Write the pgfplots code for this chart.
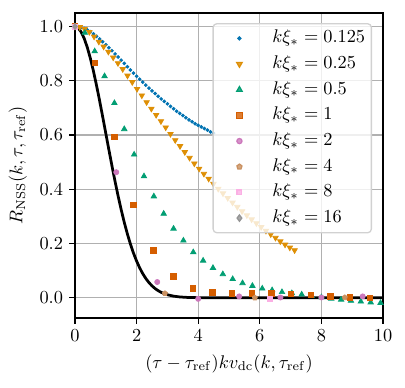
\documentclass[border=0pt]{standalone}
\usepackage{pgfplots}
\pgfplotsset{compat=1.18}
\definecolor{cb0}{HTML}{0173B2}
\definecolor{cb1}{HTML}{DE8F05}
\definecolor{cb2}{HTML}{029E73}
\definecolor{cb3}{HTML}{D55E00}
\definecolor{cb4}{HTML}{CC78BC}
\definecolor{cb5}{HTML}{CA9161}
\definecolor{cb6}{HTML}{FBAFE4}
\definecolor{cb7}{HTML}{949494}
\definecolor{gridgray}{HTML}{B0B0B0}
\begin{document}
\begin{tikzpicture}
\begin{axis}[
  scale only axis,
  width=168pt, height=166.4pt,
  xmin=0, xmax=10, ymin=-0.075, ymax=1.05,
  xtick={0,2,4,6,8,10},
  ytick={0,0.2,0.4,0.6,0.8,1.0},
  yticklabel style={/pgf/number format/.cd, fixed, fixed zerofill, precision=1},
  tick align=outside, xtick pos=bottom, ytick pos=left,
  major tick length=3pt,
  tick style={black, line width=0.7pt},
  axis line style={line width=0.8pt},
  grid=major,
  major grid style={gridgray, line width=0.75pt},
  xlabel={$(\tau-\tau_{\mathrm{ref}})kv_{\mathrm{dc}}(k,\tau_{\mathrm{ref}})$},
  ylabel={$R_{\mathrm{NSS}}(k,\tau,\tau_{\mathrm{ref}})$},
  legend cell align=left,
  legend image code/.code={%
    \path (0pt,0pt) (23.2pt,0pt);
    \draw[#1, /tikz/mark repeat=2, /tikz/mark phase=2] plot coordinates {(0pt,0pt) (11.6pt,0pt) (23.2pt,0pt)};},
  legend style={at={(1,1)}, anchor=north east, xshift=-6pt, yshift=-5.5pt,
    draw=black!18, line width=0.7pt, rounded corners=2pt, fill=white, fill opacity=0.8, text opacity=1,
    inner sep=2.4pt, row sep=2.8pt,
    nodes={inner sep=1pt, text height=7pt, text depth=2.2pt},
    /tikz/every odd column/.append style={column sep=5pt}},
]
% k xi = 0.125
\addplot[only marks, mark=*, mark size=0.8pt, color=cb0] coordinates {
(0.0,1.000)(0.1,0.999)(0.2,0.997)(0.3,0.993)(0.4,0.988)(0.5,0.981)(0.6,0.973)(0.7,0.964)(0.8,0.954)(0.9,0.944)
(1.0,0.933)(1.1,0.922)(1.2,0.911)(1.3,0.899)(1.4,0.888)(1.5,0.876)(1.6,0.864)(1.7,0.852)(1.8,0.840)(1.9,0.828)
(2.0,0.817)(2.1,0.806)(2.2,0.795)(2.3,0.784)(2.4,0.773)(2.5,0.763)(2.6,0.753)(2.7,0.743)(2.8,0.733)(2.9,0.724)
(3.0,0.715)(3.1,0.706)(3.2,0.697)(3.3,0.688)(3.4,0.680)(3.5,0.672)(3.6,0.664)(3.7,0.656)(3.8,0.649)(3.9,0.642)
(4.0,0.636)(4.1,0.630)(4.2,0.624)(4.3,0.618)(4.4,0.612)(4.5,0.607)};
\addlegendentry{$k\xi_* = 0.125$}
% k xi = 0.25
\addplot[only marks, mark=triangle*, mark size=1.7pt, mark options={rotate=180}, color=cb1] coordinates {
(0.000,1.000)(0.155,0.998)(0.310,0.991)(0.465,0.980)(0.620,0.963)(0.775,0.944)(0.930,0.926)(1.085,0.907)(1.240,0.886)(1.395,0.865)
(1.550,0.843)(1.705,0.819)(1.860,0.795)(2.015,0.770)(2.170,0.746)(2.325,0.721)(2.480,0.697)(2.635,0.674)(2.790,0.651)(2.945,0.628)
(3.100,0.604)(3.255,0.581)(3.410,0.559)(3.565,0.537)(3.720,0.516)(3.875,0.495)(4.030,0.476)(4.185,0.457)(4.340,0.439)(4.495,0.420)
(4.650,0.402)(4.805,0.385)(4.960,0.368)(5.115,0.351)(5.270,0.335)(5.425,0.319)(5.580,0.304)(5.735,0.289)(5.890,0.275)(6.045,0.261)
(6.200,0.247)(6.355,0.234)(6.510,0.221)(6.665,0.208)(6.820,0.196)(6.975,0.185)(7.130,0.175)};
\addlegendentry{$k\xi_* = 0.25$}
% k xi = 0.5
\addplot[only marks, mark=triangle*, mark size=1.7pt, color=cb2] coordinates {
(0.00,1.000)(0.32,0.977)(0.64,0.909)(0.96,0.817)(1.28,0.718)(1.60,0.622)(1.92,0.528)(2.24,0.448)(2.56,0.374)(2.88,0.310)
(3.20,0.255)(3.52,0.211)(3.84,0.168)(4.16,0.137)(4.48,0.110)(4.80,0.087)(5.12,0.069)(5.44,0.054)(5.76,0.044)(6.08,0.034)
(6.40,0.028)(6.72,0.021)(7.04,0.017)(7.36,0.012)(7.68,0.007)(8.00,0.002)(8.32,-0.003)(8.64,-0.007)(8.96,-0.011)(9.28,-0.014)
(9.60,-0.017)(9.92,-0.019)};
\addlegendentry{$k\xi_* = 0.5$}
% k xi = 1
\addplot[only marks, mark=square*, mark size=1.5pt, color=cb3] coordinates {
(0.00,1.000)(0.65,0.867)(1.28,0.594)(1.90,0.343)(2.55,0.175)(3.19,0.079)(3.82,0.034)(4.46,0.020)(5.10,0.016)(5.75,0.016)
(6.37,0.016)(7.01,0.015)(7.65,0.011)(8.29,0.006)(8.92,0.001)(9.57,0.000)};
\addlegendentry{$k\xi_* = 1$}
% k xi = 2
\addplot[only marks, mark=*, mark size=1.4pt, color=cb4] coordinates {
(0.00,1.000)(1.34,0.463)(2.67,0.058)(4.00,-0.004)(5.33,0.005)(6.67,0.001)(8.00,0.001)(9.34,0.005)};
\addlegendentry{$k\xi_* = 2$}
% k xi = 4
\addplot[only marks, mark=pentagon*, mark size=1.45pt, color=cb5] coordinates {
(0.00,1.000)(2.92,0.016)(5.84,0.000)(8.76,0.001)};
\addlegendentry{$k\xi_* = 4$}
% k xi = 8
\addplot[only marks, mark=square*, mark size=1.3pt, color=cb6] coordinates {
(0.00,1.000)(6.33,-0.005)};
\addlegendentry{$k\xi_* = 8$}
% k xi = 16
\addplot[only marks, mark=diamond*, mark size=1.7pt, color=cb7] coordinates {
(0.00,1.000)};
\addlegendentry{$k\xi_* = 16$}
% Gaussian reference curve exp(-x^2/2), values tabulated
\addplot[black, line width=1.5pt, forget plot] coordinates {
(0.0,1.00000)(0.1,0.99501)(0.2,0.98020)(0.3,0.95600)(0.4,0.92312)(0.5,0.88250)(0.6,0.83527)(0.7,0.78270)(0.8,0.72615)(0.9,0.66698)
(1.0,0.60653)(1.1,0.54607)(1.2,0.48675)(1.3,0.42956)(1.4,0.37531)(1.5,0.32465)(1.6,0.27804)(1.7,0.23575)(1.8,0.19790)(1.9,0.16447)
(2.0,0.13534)(2.1,0.11025)(2.2,0.08892)(2.3,0.07100)(2.4,0.05614)(2.5,0.04394)(2.6,0.03405)(2.7,0.02612)(2.8,0.01984)(2.9,0.01492)
(3.0,0.01111)(3.2,0.00598)(3.4,0.00309)(3.6,0.00153)(3.8,0.00073)(4.0,0.00034)(4.5,0.00004)(5.0,0.0)(10.0,0.0)};
\end{axis}
\pgfresetboundingbox
\path[use as bounding box] ([xshift=-40.9pt,yshift=-37.6pt]current axis.south west) rectangle ([xshift=12pt,yshift=7.1pt]current axis.north east);
\end{tikzpicture}
\end{document}
